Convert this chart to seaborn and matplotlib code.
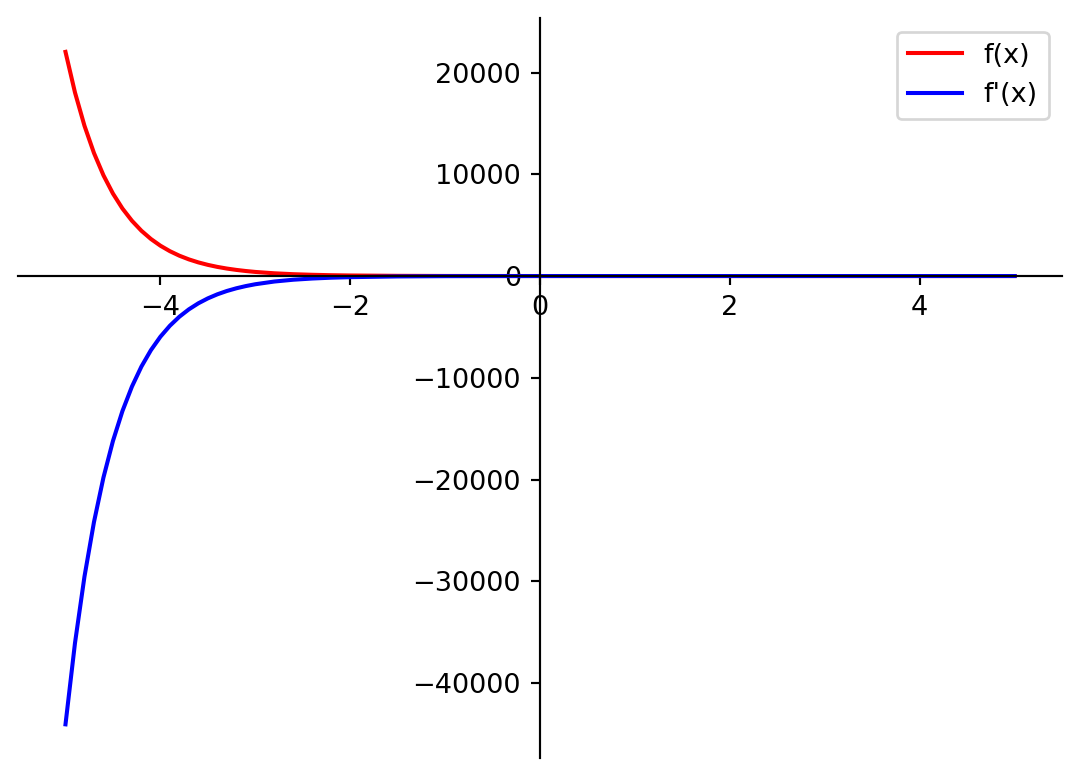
import matplotlib
matplotlib.use("Agg")
import matplotlib.pyplot as plt
import seaborn as sns
import pandas as pd

# x positions
x_vals = [-5.0, -4.9, -4.8, -4.7, -4.6, -4.5, -4.4, -4.3, -4.2, -4.1,
          -4.0, -3.9, -3.8, -3.7, -3.6, -3.5, -3.4, -3.3, -3.2, -3.1,
          -3.0, -2.8, -2.6, -2.4, -2.2, -2.0, -1.5, -1.0, -0.5, 0.0,
          1.0, 2.0, 3.0, 4.0, 5.0]
# f(x) values
f_vals = [22026, 18034, 14765, 12088, 9897, 8103, 6634, 5432, 4447, 3641,
          2981, 2441, 1998, 1636, 1339, 1097, 898, 735, 602, 493,
          403, 270, 181, 122, 81, 55, 20, 7, 3, 1,
          0.1, 0.02, 0.0, 0.0, 0.0]
# f'(x) values
fp_vals = [-44052, -36068, -29530, -24176, -19794, -16206, -13268, -10864, -8894, -7282,
           -5962, -4882, -3996, -3272, -2678, -2194, -1796, -1470, -1204, -986,
           -806, -540, -362, -244, -162, -110, -40, -14, -6, -2,
           -0.2, -0.04, 0.0, 0.0, 0.0]

df = pd.DataFrame({"x": x_vals, "f": f_vals, "fp": fp_vals})

DPI = 195
fig = plt.figure(figsize=(1080 / DPI, 777 / DPI), dpi=DPI)
ax = fig.add_axes([0.0167, 0.0245, 0.9667, 0.952])

sns.lineplot(data=df, x="x", y="f", color="red", label="f(x)", ax=ax,
             sort=False, estimator=None, linewidth=1.5)
sns.lineplot(data=df, x="x", y="fp", color="blue", label="f'(x)", ax=ax,
             sort=False, estimator=None, linewidth=1.5)

ax.spines["left"].set_position("zero")
ax.spines["bottom"].set_position("zero")
ax.spines["top"].set_visible(False)
ax.spines["right"].set_visible(False)
ax.set_xlabel("")
ax.set_ylabel("")
ax.set_xticks([-4, -2, 0, 2, 4])
ax.set_yticks([-40000, -30000, -20000, -10000, 0, 10000, 20000])
ax.legend(loc="upper right")

fig.savefig("out.png", dpi=DPI)
